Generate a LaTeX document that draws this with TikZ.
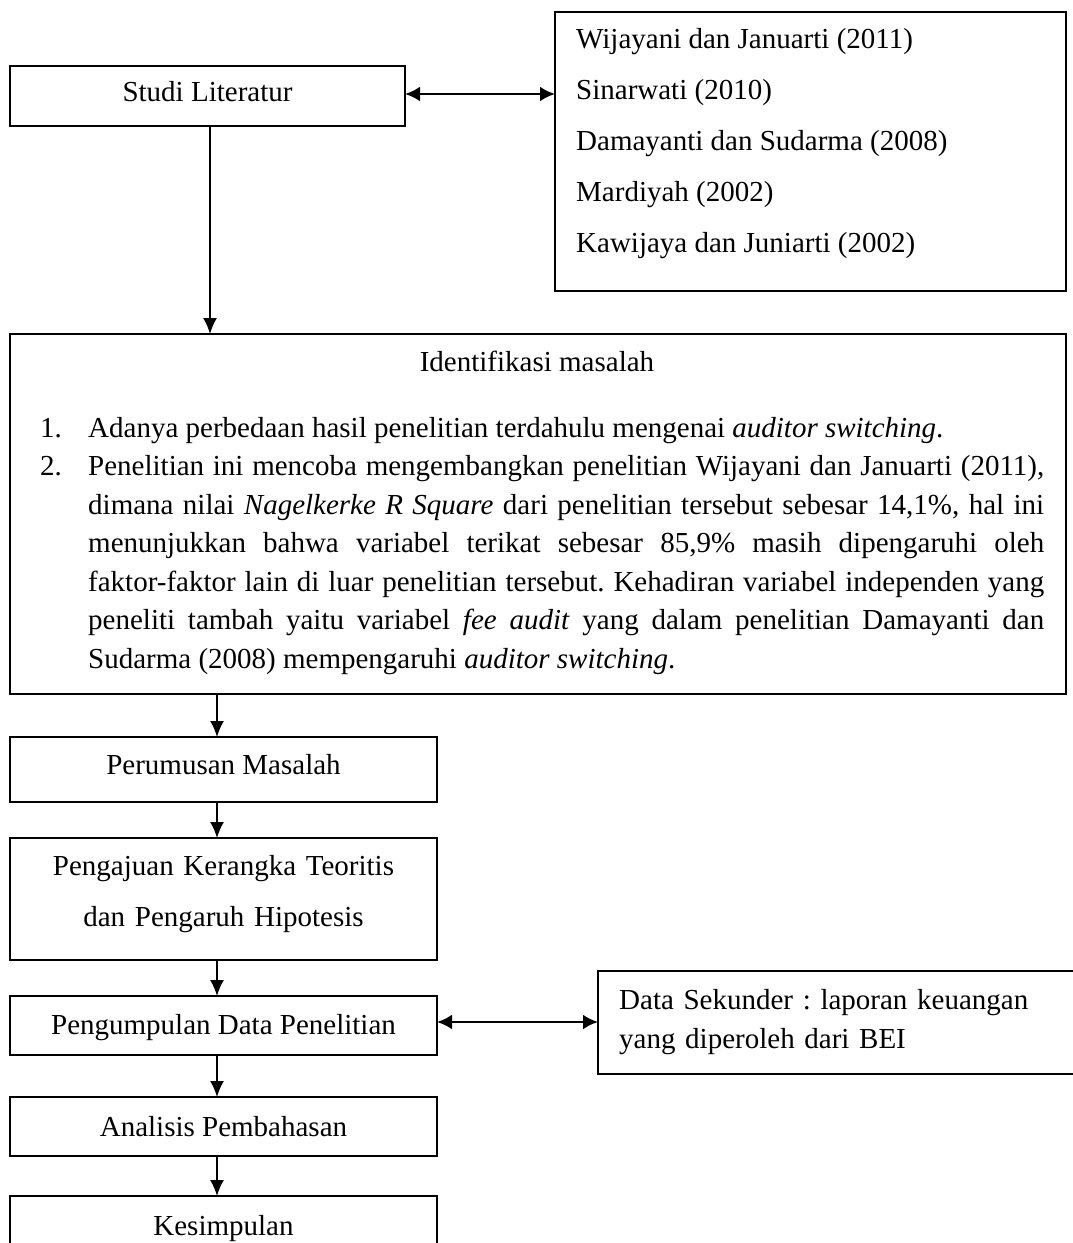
\documentclass[tikz,border=0pt]{standalone}
\usepackage{fontspec}
\setmainfont{Liberation Serif}
\usetikzlibrary{arrows.meta}
\frenchspacing
\begin{document}
\begin{tikzpicture}[x=1pt,y=-1pt,
  box/.style={draw, line width=1.8pt, inner sep=0pt, outer sep=0pt},
  txt/.style={inner sep=0pt, font=\fontsize{29}{38.5}\selectfont},
  arr/.style={line width=1.8pt, -{Latex[length=16pt,width=14pt]}},
  darr/.style={line width=2.6pt, {Latex[length=15pt,width=15pt]}-{Latex[length=15pt,width=15pt]}}]
\useasboundingbox (0,0) rectangle (1072,1243);
% boxes
\node[box, minimum width=395pt, minimum height=60pt] (studi) at (207.5,96) {};
\node[txt, anchor=base] (studit) at (207.5,101) {Studi Literatur};
\node[box, minimum width=511pt, minimum height=279pt] (refs) at (810.5,151.5) {};
\node[txt, anchor=base west] (r1) at (576,48) {Wijayani dan Januarti (2011)};
\node[txt, anchor=base west] (r2) at (576,99) {Sinarwati (2010)};
\node[txt, anchor=base west] (r3) at (576,150) {Damayanti dan Sudarma (2008)};
\node[txt, anchor=base west] (r4) at (576,201) {Mardiyah (2002)};
\node[txt, anchor=base west] (r5) at (576,252) {Kawijaya dan Juniarti (2002)};
\node[box, minimum width=1056pt, minimum height=360pt] (ident) at (538,514) {};
\node[txt, anchor=base] (identt) at (537,371) {Identifikasi masalah};
\node[txt, anchor=base west, text width=1004pt, align=justify] (list) at (40,437) {%
\parindent=0pt\hyphenpenalty=10000\tolerance=10000\frenchspacing%
\makebox[48pt][l]{1.}Adanya perbedaan hasil penelitian terdahulu mengenai \textit{auditor switching}.\par
\hangindent=48pt\hangafter=1\makebox[48pt][l]{2.}Penelitian ini mencoba mengembangkan penelitian Wijayani dan Januarti (2011),\linebreak
dimana nilai \textit{Nagelkerke R Square} dari penelitian tersebut sebesar 14,1\%, hal ini\linebreak
menunjukkan bahwa variabel terikat sebesar 85,9\% masih dipengaruhi oleh\linebreak
faktor-faktor lain di luar penelitian tersebut. Kehadiran variabel independen yang\linebreak
peneliti tambah yaitu variabel \textit{fee audit} yang dalam penelitian Damayanti dan\linebreak
Sudarma (2008) mempengaruhi \textit{auditor switching}.\par};
\node[box, minimum width=427pt, minimum height=65pt] (perum) at (223.5,769.5) {};
\node[txt, anchor=base] (perumt) at (223.5,774) {Perumusan Masalah};
\node[box, minimum width=427pt, minimum height=122pt] (peng) at (223.5,899) {};
\node[txt, anchor=base, text width=420pt, align=center, font=\fontsize{29}{51}\selectfont] (pengt) at (223.5,875) {Pengajuan Kerangka Teoritis\\dan Pengaruh Hipotesis};
\node[box, minimum width=427pt, minimum height=59pt] (kump) at (223.5,1025.5) {};
\node[txt, anchor=base] (kumpt) at (223.5,1034) {Pengumpulan Data Penelitian};
\node[box, minimum width=477pt, minimum height=103pt] (data) at (836.5,1022.5) {};
\node[txt, anchor=base west, text width=440pt, align=left, font=\fontsize{29}{39}\selectfont\frenchspacing] (datat) at (619,1009) {Data Sekunder : laporan keuangan\\yang diperoleh dari BEI};
\node[box, minimum width=427pt, minimum height=59pt] (anal) at (223.5,1126.5) {};
\node[txt, anchor=base] (analt) at (223.5,1136) {Analisis Pembahasan};
\node[box, minimum width=427pt, minimum height=60pt] (kes) at (223.5,1226) {};
\node[txt, anchor=base] (kest) at (223.5,1235) {Kesimpulan};
% connectors
\draw[darr] ([yshift=2pt]studi.east) -- ([yshift=2pt]studi.east -| refs.west);
\draw[arr] ([xshift=2.5pt]studi.south) -- ([xshift=2.5pt]studi.south |- ident.north);
\draw[arr] ([xshift=-6.5pt]ident.south -| perum.north) -- ([xshift=-6.5pt]perum.north);
\draw[arr] ([xshift=-6.5pt]perum.south) -- ([xshift=-6.5pt]peng.north);
\draw[arr] ([xshift=-6.5pt]peng.south) -- ([xshift=-6.5pt]kump.north);
\draw[darr] ([yshift=3.5pt]kump.east) -- ([yshift=3.5pt]kump.east -| data.west);
\draw[arr] ([xshift=-6.5pt]kump.south) -- ([xshift=-6.5pt]anal.north);
\draw[arr] ([xshift=-6.5pt]anal.south) -- ([xshift=-6.5pt]kes.north);
\end{tikzpicture}
\end{document}
